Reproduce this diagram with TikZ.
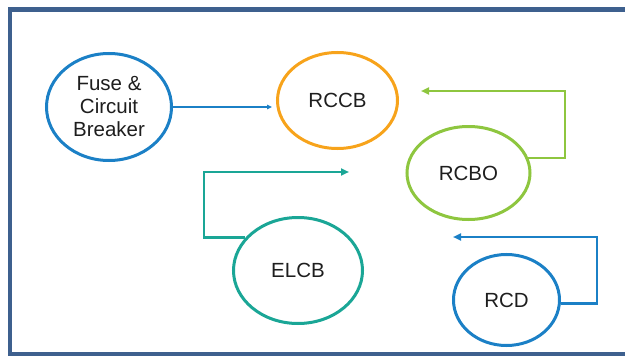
\documentclass[tikz,border=0pt]{standalone}
\usepackage{fontspec}
\setmainfont{Liberation Sans}
\usetikzlibrary{shapes.geometric,arrows.meta}
\definecolor{framec}{RGB}{62,96,142}
\definecolor{bluec}{RGB}{27,128,198}
\definecolor{orangec}{RGB}{247,163,27}
\definecolor{greenc}{RGB}{142,198,63}
\definecolor{tealc}{RGB}{26,166,150}
\definecolor{textc}{RGB}{30,30,30}
\begin{document}
\begin{tikzpicture}[x=1pt,y=-1pt,
  bubble/.style={ellipse,draw,line width=3pt,inner sep=0pt,text=textc,
    font=\fontsize{20.5}{23}\selectfont,align=center},
  elbow/.style={line width=2.6pt,-{Triangle[length=8pt,width=7pt]}},
  thin/.style={line width=1.3pt,-{Triangle[length=5pt,width=4.5pt]}}]
\useasboundingbox (0,0) rectangle (625,356);
\begin{scope}
\clip (0,0) rectangle (625,356);
\draw[framec,line width=4.5pt] (10,9.5) rectangle (700,354);
\end{scope}
\node[bubble,draw=bluec,minimum width=125pt,minimum height=107pt] (fuse) at (109,107) {Fuse \&\\Circuit\\Breaker};
\node[bubble,draw=orangec,minimum width=120pt,minimum height=96pt] (rccb) at (337.5,100.5) {RCCB};
\node[bubble,draw=greenc,minimum width=123pt,minimum height=93pt] (rcbo) at (468.5,173) {RCBO};
\node[bubble,draw=tealc,minimum width=129pt,minimum height=106pt] (elcb) at (298,270.5) {ELCB};
\node[bubble,draw=bluec,minimum width=106pt,minimum height=91pt] (rcd) at (506.5,300) {RCD};
\coordinate (gcorner) at (565,91);
\coordinate (gtip) at (421,91);
\coordinate (tcorner) at (204,172);
\coordinate (ttip) at (349,172);
\coordinate (bcorner) at (597,237);
\coordinate (btip) at (453,237);
\draw[thin,bluec,shorten >=4pt] (fuse.east) -- (fuse.east -| rccb.west);
\draw[elbow,greenc] (rcbo.14) -| (gcorner) -- (gtip);
\draw[elbow,tealc] (elcb.148) -| (tcorner) -- (ttip);
\draw[elbow,bluec] (rcd.-4) -| (bcorner) -- (btip);
\end{tikzpicture}
\end{document}
